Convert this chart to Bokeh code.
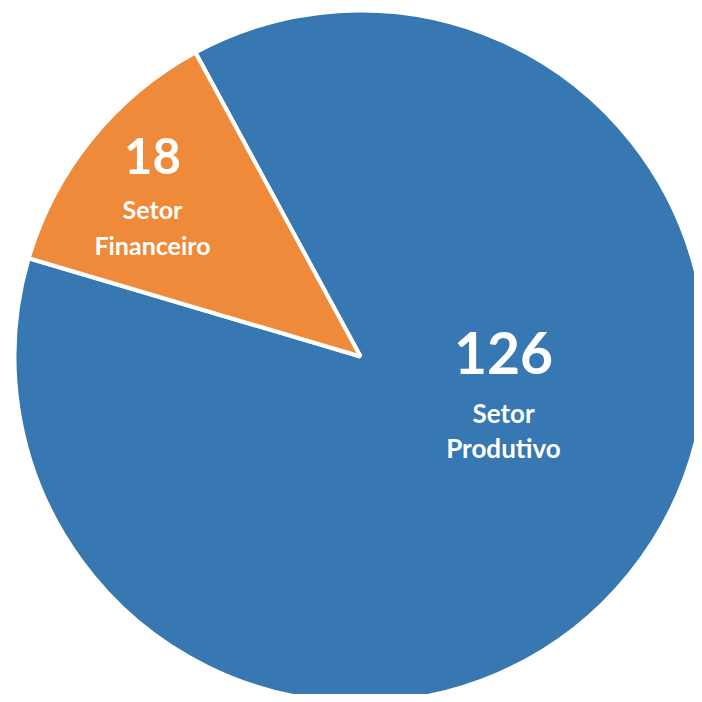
from bokeh.plotting import figure
from bokeh.models import ColumnDataSource, Range1d
from bokeh.core.properties import value
from bokeh.embed import file_html
from bokeh.resources import INLINE

# ---- data ----
categories = ["Setor Produtivo", "Setor Financeiro"]
values = [126, 18]
value_labels = ["126", "18"]
name_line1 = ["Setor", "Setor"]
name_line2 = ["Produtivo", "Financeiro"]
colors = ["#3778B2", "#EE8A3A"]

# ---- layout (pixel-like data coordinates, y up) ----
W = H = 694
cx, cy, R = 360, 702 - 356, 346
start_deg = 118.5  # orange slice starts here, counter-clockwise

total = sum(values)
ang_fin = values[1] / total * 360
starts = [start_deg + ang_fin, start_deg]
ends = [start_deg + 360, start_deg + ang_fin]

src = ColumnDataSource(dict(
    cat=categories, val=values, color=colors,
    start=starts, end=ends,
))

p = figure(width=W, height=H, output_backend="svg", toolbar_location=None,
           x_range=Range1d(0, W), y_range=Range1d(702 - H, 702),
           min_border=0)
p.axis.visible = False
p.grid.visible = False
p.outline_line_color = None
p.background_fill_color = "white"
p.border_fill_color = "white"

p.wedge(x=cx, y=cy, radius=R, start_angle="start", end_angle="end",
        start_angle_units="deg", end_angle_units="deg", direction="anticlock",
        fill_color="color", line_color="white", line_width=4, source=src)

# label positions (pixel coords in reference, converted to y-up)
lab_x = [503, 152]
val_y = [702 - 352, 702 - 155]
l1_y = [702 - 412, 702 - 208]
l2_y = [702 - 447, 702 - 244]
val_size = ["57px", "49px"]
name_size = ["26px", "25px"]

for i in range(len(values)):
    p.text(x=[lab_x[i]], y=[val_y[i]], text=[value_labels[i]],
           text_font=value("Lato"), text_font_style="bold",
           text_font_size=val_size[i], text_color="white",
           text_align="center", text_baseline="middle")
    p.text(x=[lab_x[i]], y=[l1_y[i]], text=[name_line1[i]],
           text_font=value("Lato"), text_font_style="bold",
           text_font_size=name_size[i], text_color="white",
           text_align="center", text_baseline="middle")
    p.text(x=[lab_x[i]], y=[l2_y[i]], text=[name_line2[i]],
           text_font=value("Lato"), text_font_style="bold",
           text_font_size=name_size[i], text_color="white",
           text_align="center", text_baseline="middle")

open("out.html", "w").write(file_html(p, INLINE))
